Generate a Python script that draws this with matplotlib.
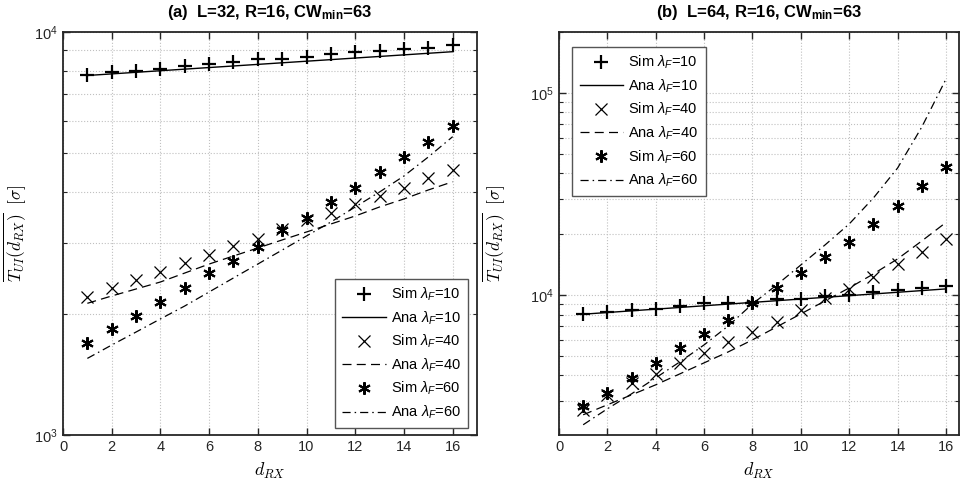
import matplotlib
matplotlib.use("Agg")
import matplotlib.pyplot as plt
from matplotlib.ticker import LogLocator, NullFormatter, MultipleLocator

plt.rcParams['font.family'] = ['Liberation Sans', 'DejaVu Sans']
plt.rcParams['mathtext.fontset'] = 'custom'
plt.rcParams['mathtext.rm'] = 'Liberation Sans'
plt.rcParams['mathtext.it'] = 'Liberation Sans:italic'
plt.rcParams['mathtext.bf'] = 'Liberation Sans:bold'

d_rx = list(range(1, 17))

# Panel (a): L=32
a_sim10 = [7820, 7970, 8000, 8080, 8234, 8330, 8440, 8556, 8585, 8685, 8806, 8906, 8988, 9075, 9143, 9268]
a_ana10 = [7800, 7871, 7943, 8015, 8088, 8162, 8236, 8311, 8387, 8463, 8540, 8618, 8696, 8775, 8855, 8936]
a_sim40 = [2203, 2312, 2425, 2542, 2667, 2797, 2944, 3070, 3245, 3416, 3548, 3742, 3918, 4095, 4335, 4547]
a_ana40 = [2122, 2213, 2303, 2397, 2523, 2656, 2781, 2911, 3048, 3190, 3339, 3495, 3680, 3852, 4055, 4250]
a_sim60 = [1694, 1832, 1974, 2141, 2312, 2520, 2707, 2932, 3225, 3450, 3793, 4095, 4500, 4906, 5345, 5843]
a_ana60 = [1549, 1672, 1801, 1941, 2090, 2264, 2453, 2656, 2877, 3118, 3377, 3680, 4009, 4392, 4896, 5499]

# Panel (b): L=64
b_sim10 = [8028, 8213, 8430, 8497, 8823, 9099, 9162, 9099, 9522, 9555, 9887, 10000, 10383, 10586, 10792, 11079]
b_ana10 = [8028, 8184, 8343, 8505, 8670, 8838, 9009, 9184, 9362, 9544, 9729, 9918, 10110, 10306, 10506, 10710]
b_sim40 = [2701, 3203, 3660, 4055, 4628, 5185, 5838, 6586, 7379, 8431, 9632, 10670, 12230, 14180, 16370, 18810]
b_ana40 = [2552, 2860, 3203, 3591, 4069, 4612, 5226, 5993, 6947, 8054, 9340, 10830, 12700, 15070, 18490, 22830]
b_sim60 = [2805, 3267, 3902, 4597, 5452, 6416, 7522, 9099, 10792, 12890, 15360, 18340, 22440, 27540, 34580, 43080]
b_ana60 = [2278, 2732, 3240, 3888, 4665, 5660, 7027, 9026, 11205, 14070, 17670, 22440, 30170, 42450, 67690, 116860]

labels = [r'Sim $\lambda_F$=10', r'Ana $\lambda_F$=10', r'Sim $\lambda_F$=40',
          r'Ana $\lambda_F$=40', r'Sim $\lambda_F$=60', r'Ana $\lambda_F$=60']
titles = [r'(a)  L=32, R=16, CW$_{\mathbf{min}}$=63', r'(b)  L=64, R=16, CW$_{\mathbf{min}}$=63']

W, H = 965, 490
fig = plt.figure(figsize=(W / 100, H / 100), dpi=100)
ax_a = fig.add_axes([63 / W, (H - 435) / H, 414 / W, 403 / H])
ax_b = fig.add_axes([559 / W, (H - 435) / H, 400 / W, 403 / H])

star = (6, 2, 0)
dark = '#262626'

def draw(ax, s10, a10, s40, a40, s60, a60):
    h = []
    h += ax.plot(d_rx, s10, linestyle='none', marker='+', ms=10, mew=1.6, color='k')
    h += ax.plot(d_rx, a10, linestyle='-', lw=1.0, color='k')
    h += ax.plot(d_rx, s40, linestyle='none', marker='x', ms=8, mew=0.9, color='k')
    h += ax.plot(d_rx, a40, linestyle=(0, (7.2, 4.2)), lw=0.9, color='k')
    h += ax.plot(d_rx, s60, linestyle='none', marker=star, ms=9, mew=1.5, color='k')
    h += ax.plot(d_rx, a60, linestyle=(0, (6.5, 3.2, 1.2, 3.2)), lw=0.9, color='k')
    ax.set_yscale('log')
    ax.xaxis.set_major_locator(MultipleLocator(2))
    ax.yaxis.set_major_locator(LogLocator(base=10, numticks=10))
    ax.yaxis.set_minor_locator(LogLocator(base=10, subs=range(2, 10), numticks=20))
    ax.yaxis.set_minor_formatter(NullFormatter())
    ax.grid(True, which='major', linestyle=':', color='#c0c0c0', lw=0.8)
    ax.grid(True, which='minor', axis='y', linestyle=':', color='#c0c0c0', lw=0.8)
    ax.tick_params(which='both', direction='in', top=True, right=True, colors=dark,
                   labelsize=10.5, labelcolor=dark)
    ax.tick_params(which='major', length=5, width=1)
    ax.tick_params(which='minor', length=3, width=0.8)
    for sp in ax.spines.values():
        sp.set_color(dark)
        sp.set_linewidth(1.3)
    ax.set_axisbelow(True)
    ax.set_xlabel(r'$d_{RX}$', fontsize=13, math_fontfamily='cm', labelpad=5)
    ax.set_ylabel(r'$\overline{T_{UI}(d_{RX})}\ \ [\sigma]$', fontsize=12.5, math_fontfamily='cm')
    return h

def legend(ax, h, loc, anchor):
    leg = ax.legend(h, labels, loc=loc, bbox_to_anchor=anchor,
                    borderaxespad=0, fontsize=10.5, handlelength=3.0, handletextpad=0.35,
                    labelspacing=0.42, borderpad=0.5, fancybox=False, framealpha=1,
                    edgecolor='#555555')
    leg.get_frame().set_linewidth(1.0)

h = draw(ax_a, a_sim10, a_ana10, a_sim40, a_ana40, a_sim60, a_ana60)
ax_a.set_xlim(0, 17)
ax_a.set_ylim(1e3, 1e4)
ax_a.set_title(titles[0], fontsize=12, fontweight='bold', pad=11)
ax_a.yaxis.set_label_coords(-0.083, 0.5)
legend(ax_a, h, 'lower right', (0.979, 0.0166))

h = draw(ax_b, b_sim10, b_ana10, b_sim40, b_ana40, b_sim60, b_ana60)
ax_b.set_xlim(0, 16.54)
ax_b.set_ylim(2027, 2.0e5)
ax_b.set_title(titles[1], fontsize=12, fontweight='bold', pad=11)
ax_b.yaxis.set_label_coords(-0.128, 0.5)
legend(ax_b, h, 'upper left', (0.0333, 0.9635))

fig.savefig('out.png', dpi=100)
